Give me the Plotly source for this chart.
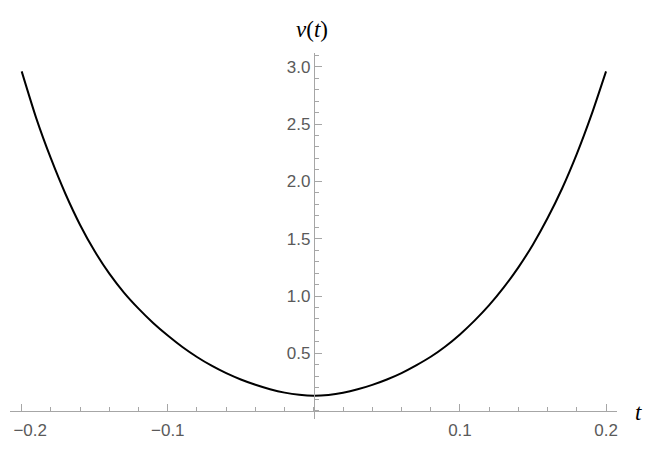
import plotly.graph_objects as go

# curve
t_vals = [-0.2, -0.19, -0.18, -0.17, -0.16, -0.15, -0.14, -0.13, -0.12, -0.11,
          -0.10, -0.09, -0.08, -0.07, -0.06, -0.05, -0.04, -0.03, -0.02, -0.01,
          0.0,
          0.01, 0.02, 0.03, 0.04, 0.05, 0.06, 0.07, 0.08, 0.09, 0.10,
          0.11, 0.12, 0.13, 0.14, 0.15, 0.16, 0.17, 0.18, 0.19, 0.2]
v_vals = [2.96, 2.55, 2.20, 1.89, 1.62, 1.39, 1.195, 1.03, 0.89, 0.765,
          0.655, 0.555, 0.468, 0.392, 0.327, 0.272, 0.226, 0.187, 0.157, 0.138,
          0.13,
          0.137, 0.156, 0.186, 0.225, 0.272, 0.328, 0.395, 0.47, 0.56, 0.665,
          0.785, 0.92, 1.075, 1.25, 1.45, 1.68, 1.94, 2.24, 2.58, 2.96]

x_ticks = [-0.2, -0.1, 0.1, 0.2]
# em space in front of the first label keeps it inside the page edge
x_tick_text = ["\u2003\u22120.2", "\u22120.1", "0.1", "0.2"]
y_ticks = [0.5, 1.0, 1.5, 2.0, 2.5, 3.0]
y_tick_text = ["0.5", "1.0", "1.5", "2.0", "2.5", "3.0"]

x_range = [-0.208, 0.2075]
y_range = [-0.073, 3.12]

axis_col = "#a6a6a6"
label_col = "#5a5a5a"

fig = go.Figure(
    go.Scatter(
        x=t_vals, y=v_vals, mode="lines",
        line=dict(color="black", width=2, shape="spline", smoothing=0.6),
        showlegend=False, hoverinfo="skip",
    )
)

# page body has an 8px default margin, so the figure is shrunk by that much
fig.update_layout(
    width=656, height=449,
    margin=dict(l=2, r=47, t=45, b=38),
    plot_bgcolor="white", paper_bgcolor="white",
    font=dict(family="Liberation Sans, Arial, sans-serif", size=17, color=label_col),
    xaxis=dict(
        range=x_range, showgrid=False, zeroline=False, automargin=False,
        showline=True, linecolor=axis_col, linewidth=1,
        anchor="free", position=(0 - y_range[0]) / (y_range[1] - y_range[0]),
        tickmode="array", tickvals=x_ticks, ticktext=x_tick_text,
        ticks="inside", ticklen=7, tickcolor=axis_col, tickwidth=1,
        ticklabelstandoff=4, ticklabeloverflow="allow",
        minor=dict(tickmode="linear", tick0=0, dtick=0.02, ticks="inside",
                   ticklen=4, tickcolor=axis_col, tickwidth=1, showgrid=False),
    ),
    yaxis=dict(
        range=y_range, showgrid=False, zeroline=False, automargin=False,
        showline=True, linecolor=axis_col, linewidth=1,
        anchor="free", position=(0 - x_range[0]) / (x_range[1] - x_range[0]),
        tickmode="array", tickvals=y_ticks, ticktext=y_tick_text,
        ticks="inside", ticklen=7, tickcolor=axis_col, tickwidth=1,
        ticklabeloverflow="allow",
        minor=dict(tickmode="linear", tick0=0, dtick=0.1, ticks="inside",
                   ticklen=4, tickcolor=axis_col, tickwidth=1, showgrid=False),
    ),
)

# axis labels in Mathematica's TraditionalForm style
fig.add_annotation(
    text="<i>v</i>(<i>t</i>)", xref="paper", yref="paper", x=0.4975, y=1.063,
    xanchor="center", yanchor="middle",
    showarrow=False, font=dict(family="Liberation Serif, Times New Roman, serif",
                               size=23, color="black"),
)
fig.add_annotation(
    text="<i>t</i>", xref="paper", yref="y", x=1.036, y=-0.02,
    xanchor="center", yanchor="middle",
    showarrow=False, font=dict(family="Liberation Serif, Times New Roman, serif",
                               size=23, color="black"),
)

fig.write_html("out.html")
